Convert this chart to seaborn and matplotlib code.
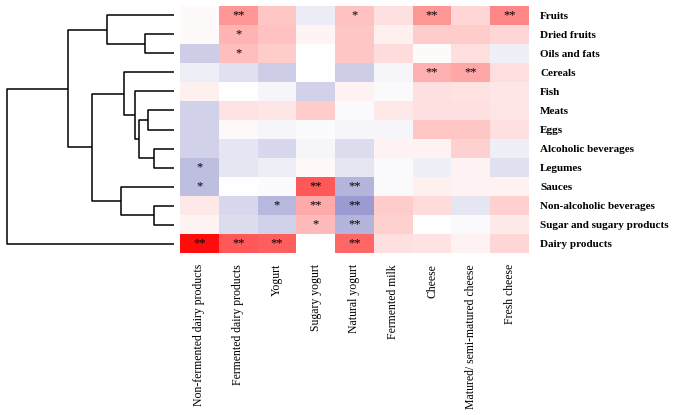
import numpy as np
import pandas as pd
import matplotlib
matplotlib.use("Agg")
import matplotlib.pyplot as plt
from matplotlib.colors import LinearSegmentedColormap
import seaborn as sns

# food groups (rows, in dendrogram order) and dairy items (columns)
food_groups = ["Fruits", "Dried fruits", "Oils and fats", "Cereals", "Fish", "Meats",
               "Eggs", "Alcoholic beverages", "Legumes", "Sauces",
               "Non-alcoholic beverages", "Sugar and sugary products", "Dairy products"]
dairy_items = ["Non-fermented dairy products", "Fermented dairy products", "Yogurt",
               "Sugary yogurt", "Natural yogurt", "Fermented milk", "Cheese",
               "Matured/ semi-matured cheese", "Fresh cheese"]

# correlation values
corr_values = [
    [0.02, 0.41, 0.22, -0.10, 0.24, 0.12, 0.41, 0.16, 0.47],
    [0.02, 0.29, 0.24, 0.04, 0.22, 0.06, 0.20, 0.20, 0.16],
    [-0.26, 0.25, 0.20, 0.00, 0.22, 0.14, 0.02, 0.13, -0.08],
    [-0.09, -0.16, -0.26, 0.00, -0.26, -0.05, 0.31, 0.35, 0.13],
    [0.06, 0.00, -0.05, -0.24, 0.05, -0.03, 0.12, 0.11, 0.10],
    [-0.24, 0.11, 0.10, 0.20, -0.03, 0.09, 0.12, 0.12, 0.10],
    [-0.24, 0.03, -0.05, -0.02, -0.05, -0.05, 0.22, 0.22, 0.12],
    [-0.24, -0.14, -0.21, -0.05, -0.18, 0.05, 0.05, 0.18, -0.08],
    [-0.34, -0.13, -0.09, 0.03, -0.13, -0.03, -0.08, 0.05, -0.16],
    [-0.34, 0.00, -0.02, 0.65, -0.39, -0.03, 0.06, 0.05, 0.05],
    [0.09, -0.21, -0.37, 0.33, -0.52, 0.20, 0.14, -0.13, 0.18],
    [0.04, -0.18, -0.24, 0.27, -0.39, 0.18, 0.00, -0.03, 0.08],
    [0.95, 0.65, 0.63, 0.00, 0.60, 0.12, 0.11, 0.05, 0.16],
]

# significance marks
signif = [
    ["", "**", "", "", "*", "", "**", "", "**"],
    ["", "*", "", "", "", "", "", "", ""],
    ["", "*", "", "", "", "", "", "", ""],
    ["", "", "", "", "", "", "**", "**", ""],
    ["", "", "", "", "", "", "", "", ""],
    ["", "", "", "", "", "", "", "", ""],
    ["", "", "", "", "", "", "", "", ""],
    ["", "", "", "", "", "", "", "", ""],
    ["*", "", "", "", "", "", "", "", ""],
    ["*", "", "", "**", "**", "", "", "", ""],
    ["", "", "*", "**", "**", "", "", "", ""],
    ["", "", "", "*", "**", "", "", "", ""],
    ["**", "**", "**", "", "**", "", "", "", ""],
]

# row linkage (leaf index = row position): left, right, distance
row_linkage = [
    (7, 8, 20), (10, 11, 20), (5, 6, 26), (1, 2, 29), (15, 13, 35),
    (4, 17, 39), (3, 18, 50), (9, 14, 53), (0, 16, 67), (19, 20, 82),
    (21, 22, 106.5), (23, 12, 167.5),
]

df = pd.DataFrame(corr_values, index=food_groups, columns=dairy_items)
stars = np.array(signif)

plt.rcParams["font.family"] = ["Liberation Serif", "DejaVu Serif"]

fig = plt.figure(figsize=(6.75, 4.15), dpi=100)
W, H = 675, 415
hm_left, hm_right, hm_top, hm_bottom = 180, 529, 6, 253
ax = fig.add_axes([hm_left / W, 1 - hm_bottom / H, (hm_right - hm_left) / W,
                   (hm_bottom - hm_top) / H])
ax_tree = fig.add_axes([0, 1 - hm_bottom / H, 174 / W, (hm_bottom - hm_top) / H])

cmap = LinearSegmentedColormap.from_list("bwr_soft", ["#4040a6", "white", "#ff0000"])
sns.heatmap(df, ax=ax, cmap=cmap, vmin=-1, vmax=1, cbar=False,
            annot=stars, fmt="", annot_kws={"fontsize": 9, "color": "black"})

ax.yaxis.tick_right()
ax.set_yticklabels(food_groups, rotation=0, fontsize=8, fontweight="bold")
ax.set_xticklabels(dairy_items, rotation=90, fontsize=8.5)
ax.tick_params(axis="both", length=0, pad=8)
ax.set_xlabel("")
ax.set_ylabel("")

# dendrogram
n = len(food_groups)
pos = {i: i + 0.5 for i in range(n)}
hgt = {i: 0.0 for i in range(n)}
for k, (a, b, d) in enumerate(row_linkage):
    ax_tree.plot([hgt[a], d, d, hgt[b]], [pos[a], pos[a], pos[b], pos[b]],
                 color="black", lw=1.1, solid_capstyle="butt")
    pos[n + k] = (pos[a] + pos[b]) / 2
    hgt[n + k] = d
ax_tree.set_ylim(n, 0)
ax_tree.set_xlim(174, 0)
ax_tree.axis("off")

fig.savefig("out.png", dpi=100)
